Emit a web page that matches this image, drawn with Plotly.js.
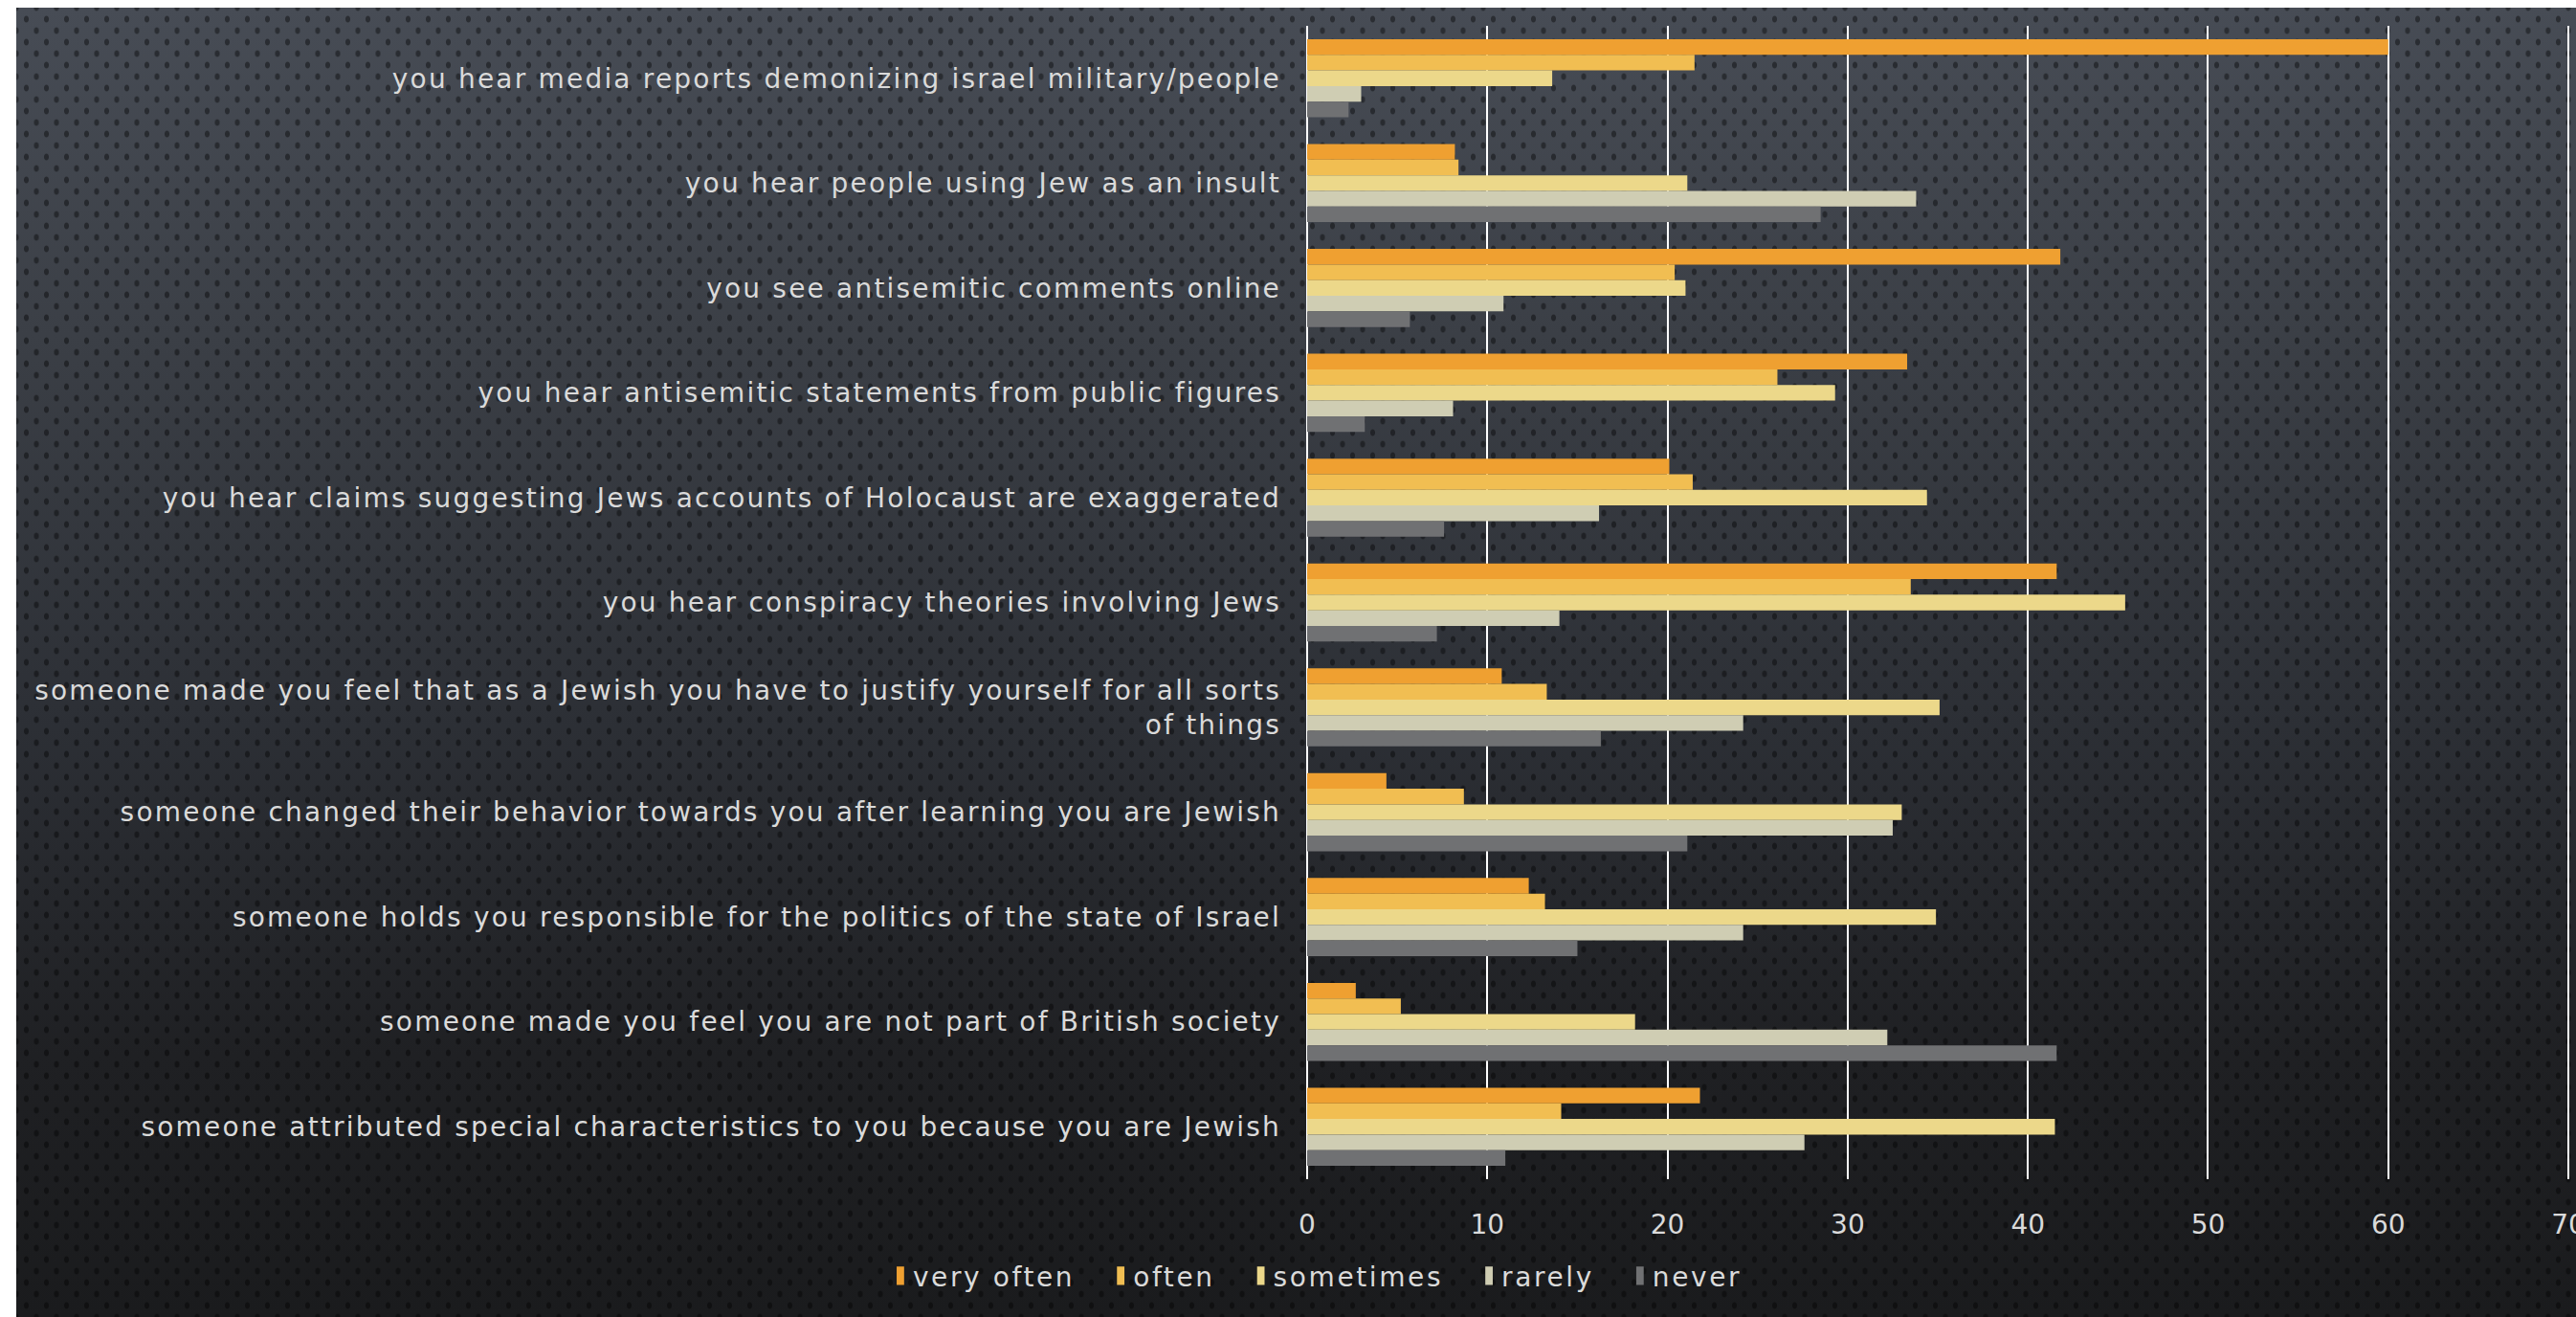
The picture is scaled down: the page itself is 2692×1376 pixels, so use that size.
<!DOCTYPE html>
<html>
<head>
<meta charset="utf-8">
<script src="https://cdn.plot.ly/plotly-3.0.1.min.js"></script>
<style>
  html, body { margin: 0; padding: 0; background: #ffffff; width: 2692px; height: 1376px; overflow: hidden; }
  #bg {
    position: absolute; left: 17px; top: 8px; width: 2675px; height: 1368px;
    background-color: #2c2f34;
    background-image:
      radial-gradient(ellipse 3px 4px at 50% 50%, rgba(0,0,0,0.4) 0, rgba(0,0,0,0.4) 70%, rgba(0,0,0,0) 100%),
      radial-gradient(ellipse 3px 4px at 50% 50%, rgba(0,0,0,0.4) 0, rgba(0,0,0,0.4) 70%, rgba(0,0,0,0) 100%),
      linear-gradient(to bottom, #474c55 0%, #3b3f46 25%, #2c2f35 55%, #1f2023 80%, #1a1b1d 100%);
    background-size: 21px 24px, 21px 24px, 100% 100%;
    background-position: 0 0, 10.5px 12px, 0 0;
  }
  #chart { position: absolute; left: 0; top: 0; width: 2692px; height: 1376px; }
  #chart .ytick text { letter-spacing: 2.2px; }
  .legendtext { letter-spacing: 2.6px; }
  #chart .legendpoints path { transform: translate(43px, 0px) scale(0.65, 1.6); }
</style>
</head>
<body>
<div id="bg"></div>
<div id="chart"></div>
<script>
const categories = [
  "you hear media reports demonizing israel military/people",
  "you hear people using Jew as an insult",
  "you see antisemitic comments online",
  "you hear antisemitic statements from public figures",
  "you hear claims suggesting Jews accounts of Holocaust are exaggerated",
  "you hear conspiracy theories involving Jews",
  "someone made you feel that as a Jewish you have to justify yourself for all sorts<br>of things",
  "someone changed their behavior towards you after learning you are Jewish",
  "someone holds you responsible for the politics of the state of Israel",
  "someone made you feel you are not part of British society",
  "someone attributed special characteristics to you because you are Jewish"
];

const seriesNames = ["very often", "often", "sometimes", "rarely", "never"];

const veryOften = [60.0, 8.2, 41.8, 33.3, 20.1, 41.6, 10.8, 4.4, 12.3, 2.7, 21.8];
const often     = [21.5, 8.4, 20.4, 26.1, 21.4, 33.5, 13.3, 8.7, 13.2, 5.2, 14.1];
const sometimes = [13.6, 21.1, 21.0, 29.3, 34.4, 45.4, 35.1, 33.0, 34.9, 18.2, 41.5];
const rarely    = [3.0, 33.8, 10.9, 8.1, 16.2, 14.0, 24.2, 32.5, 24.2, 32.2, 27.6];
const never     = [2.3, 28.5, 5.7, 3.2, 7.6, 7.2, 16.3, 21.1, 15.0, 41.6, 11.0];

const xTicks = [0, 10, 20, 30, 40, 50, 60, 70];

const seriesValues = [veryOften, often, sometimes, rarely, never];
const seriesColors = ["#EFA031", "#F1BE52", "#ECD88A", "#CFCDB3", "#707173"];

const FONT = "'DejaVu Sans', sans-serif";
const TXT = "#dadada";

const traces = seriesNames.map((name, i) => ({
  type: "bar",
  orientation: "h",
  name: name,
  x: seriesValues[i],
  y: categories,
  marker: { color: seriesColors[i], line: { width: 0 } },
  hoverinfo: "x+name"
}));

const layout = {
  width: 2692,
  height: 1376,
  paper_bgcolor: "rgba(0,0,0,0)",
  plot_bgcolor: "rgba(0,0,0,0)",
  margin: { l: 1366, r: 0, t: 27, b: 144, pad: 0 },
  barmode: "group",
  bargap: 0.255,
  bargroupgap: 0,
  font: { family: FONT, size: 28, color: TXT },
  showlegend: true,
  legend: {
    orientation: "h",
    x: -0.353,
    xanchor: "left",
    y: -0.084,
    yanchor: "middle",
    itemwidth: 46,
    font: { family: FONT, size: 28, color: TXT },
    bgcolor: "rgba(0,0,0,0)",
    traceorder: "normal"
  },
  xaxis: {
    range: [0, 70.42],
    tickvals: xTicks,
    ticktext: xTicks.map(String),
    showgrid: true,
    gridcolor: "#ffffff",
    gridwidth: 2,
    zeroline: true,
    zerolinecolor: "#ffffff",
    zerolinewidth: 2,
    showline: false,
    ticks: "",
    ticklabelstandoff: 28,
    ticklabeloverflow: "allow",
    tickfont: { family: FONT, size: 28, color: TXT },
    fixedrange: true
  },
  yaxis: {
    type: "category",
    autorange: "reversed",
    showgrid: false,
    zeroline: false,
    showline: false,
    ticks: "",
    ticklabelstandoff: 26,
    tickfont: { family: FONT, size: 28, color: TXT },
    fixedrange: true
  }
};

Plotly.newPlot("chart", traces, layout, { displayModeBar: false, staticPlot: true });
</script>
</body>
</html>
